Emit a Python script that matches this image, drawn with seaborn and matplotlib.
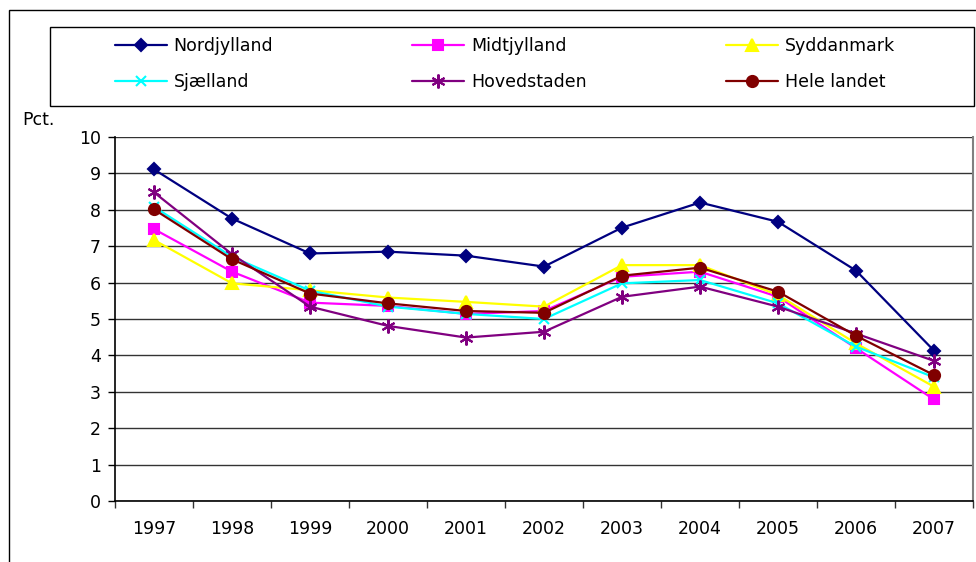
import pandas as pd
import seaborn as sns
import matplotlib.pyplot as plt
import matplotlib.patches as patches
from matplotlib.ticker import MultipleLocator, FixedLocator, NullFormatter

years = list(range(1997, 2008))

nordjylland = [9.11, 7.76, 6.80, 6.85, 6.74, 6.44, 7.51, 8.20, 7.67, 6.33, 4.13]
midtjylland = [7.47, 6.30, 5.45, 5.36, 5.14, 5.22, 6.16, 6.30, 5.61, 4.20, 2.79]
syddanmark = [7.17, 5.98, 5.79, 5.59, 5.47, 5.34, 6.48, 6.48, 5.66, 4.33, 3.14]
sjaelland = [8.08, 6.71, 5.78, 5.34, 5.14, 5.00, 5.98, 6.07, 5.43, 4.24, 3.40]
hovedstaden = [8.48, 6.78, 5.34, 4.81, 4.49, 4.65, 5.61, 5.89, 5.34, 4.60, 3.85]
hele_landet = [8.01, 6.64, 5.70, 5.43, 5.22, 5.17, 6.19, 6.41, 5.75, 4.54, 3.46]

series = {
    "Nordjylland": nordjylland,
    "Midtjylland": midtjylland,
    "Syddanmark": syddanmark,
    "Sjælland": sjaelland,
    "Hovedstaden": hovedstaden,
    "Hele landet": hele_landet,
}

# color, marker, markersize
styles = {
    "Nordjylland": ("#000080", "D", 6.5),
    "Midtjylland": ("#FF00FF", "s", 6.5),
    "Syddanmark": ("#FFFF00", "^", 8),
    "Sjælland": ("#00FFFF", "x", 7.5),
    "Hovedstaden": ("#800080", (6, 2, 0), 10),
    "Hele landet": ("#800000", "o", 8),
}

df = pd.DataFrame(
    [(y, name, v) for name, vals in series.items() for y, v in zip(years, vals)],
    columns=["year", "region", "pct"],
)

sns.set_theme(style="white")
plt.rcParams["font.family"] = ["DejaVu Sans"]
plt.rcParams["text.color"] = "black"
plt.rcParams["xtick.color"] = "black"
plt.rcParams["ytick.color"] = "black"

fig = plt.figure(figsize=(9.76, 5.62), dpi=100)
ax = fig.add_axes([115 / 976, 61 / 562, 858 / 976, 364 / 562])

for name in series:
    color, marker, ms = styles[name]
    sub = df[df["region"] == name]
    sns.lineplot(data=sub, x="year", y="pct", ax=ax, color=color, marker=marker,
                 markersize=ms, markeredgecolor=color, markeredgewidth=1.5,
                 linewidth=1.6, label=name, legend=False)

ax.set_xlim(1996.5, 2007.5)
ax.set_ylim(0, 10)
ax.yaxis.set_major_locator(MultipleLocator(1))
ax.grid(axis="y", color="#333333", linewidth=1)
ax.set_axisbelow(True)

ax.set_xticks(years)
ax.set_xticklabels([str(y) for y in years])
ax.xaxis.set_minor_locator(FixedLocator([y + 0.5 for y in range(1996, 2008)]))
ax.xaxis.set_minor_formatter(NullFormatter())
ax.tick_params(axis="x", which="major", length=0, pad=14, labelsize=12.5, labelcolor="black")
ax.tick_params(axis="x", which="minor", length=5, width=1, color="#333333", bottom=True)
ax.tick_params(axis="y", length=5, width=1, color="black", left=True, labelsize=12.5,
               pad=5, labelcolor="black")
ax.set_xlabel("")
ax.set_ylabel("")

for side in ["left", "bottom"]:
    ax.spines[side].set_color("black")
    ax.spines[side].set_linewidth(1.2)
ax.spines["top"].set_visible(False)
ax.spines["right"].set_color("#808080")
ax.spines["right"].set_linewidth(1.5)

fig.text(22 / 976, 1 - 120 / 562, "Pct.", fontsize=12.5, va="center", ha="left", color="black")

# outer chart frame
fig.patches.append(patches.Rectangle((9 / 976, -0.1), 1.2, 1 - 10 / 562 + 0.1,
                                     transform=fig.transFigure, fill=False,
                                     edgecolor="black", linewidth=1))
# legend frame
fig.patches.append(patches.Rectangle((50 / 976, 1 - 106 / 562), 924 / 976, 79 / 562,
                                     transform=fig.transFigure, fill=False,
                                     edgecolor="black", linewidth=1))

handles, labels = ax.get_legend_handles_labels()
order = ["Nordjylland", "Sjælland", "Midtjylland", "Hovedstaden", "Syddanmark", "Hele landet"]
hmap = dict(zip(labels, handles))
leg = fig.legend([hmap[n] for n in order], order, ncol=3, frameon=False,
                 loc="center left", bbox_to_anchor=(106 / 976, 1 - 64 / 562),
                 fontsize=12.5, handlelength=3.0, handletextpad=0.4,
                 columnspacing=8.0, labelspacing=1.0, borderpad=0)
for t in leg.get_texts():
    t.set_color("black")

fig.savefig("out.png", dpi=100, facecolor="white")
